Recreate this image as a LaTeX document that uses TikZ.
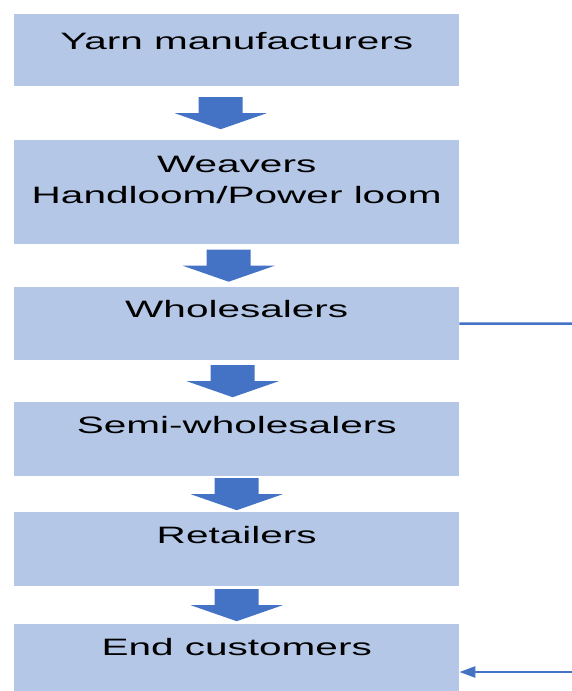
\documentclass[tikz,border=0pt]{standalone}
\usepackage{fontspec}
\usepackage{tikz}
\usetikzlibrary{arrows.meta,calc}
\newfontfamily\stagefont[FakeStretch=1.71]{Liberation Sans}
\definecolor{stagefill}{HTML}{B4C7E7}
\definecolor{flowblue}{HTML}{4472C4}

\begin{document}
\begin{tikzpicture}[x=1pt,y=-1pt,
	stage/.style={fill=stagefill, minimum width=445pt, inner sep=0pt,
		anchor=north west, align=center,
		font=\stagefont\fontsize{23.7}{31}\selectfont},
	blockarrow/.style={fill=flowblue}]

			\useasboundingbox (0,0) rectangle (572,691);

			% Stages of the chain
			\node[stage, text height=35pt, text depth=37pt] (yarn) at (14,14) {Yarn manufacturers};
			\node[stage, text height=63pt, text depth=41pt] (weav) at (14,140) {Weavers\\Handloom/Power loom};
			\node[stage, text height=30pt, text depth=43pt] (whole) at (14,287) {Wholesalers};
			\node[stage, text height=31pt, text depth=43pt] (semi) at (14,402) {Semi-wholesalers};
			\node[stage, text height=31pt, text depth=43pt] (ret) at (14,512) {Retailers};
			\node[stage, text height=31pt, text depth=43pt] (endc) at (14,624) {End customers};

			% Block arrows between the stages
			\foreach \a/\b/\dx in {yarn/weav/-16, weav/whole/-8, whole/semi/-4, semi/ret/0, ret/endc/0}{
				\coordinate (mid) at ($($(\a.south)!0.5!(\b.north)$)+(\dx,0)$);
				\fill[blockarrow] (mid) ++(-22,-16) -- ++(44,0) -- ++(0,16) -- ++(24,0)
					-- ++(-46,16) -- ++(-46,-16) -- ++(24,0) -- cycle;
			}

			% Side connectors
			\coordinate (out) at (572,323.5);
			\draw[flowblue, line width=2.5pt] (whole.east) -- (out);

			\coordinate (back) at (572,672);
			\draw[flowblue, line width=2.5pt, -{Triangle[length=16pt,width=11pt]}] (back) -- (back -| endc.east);

		\end{tikzpicture}
\end{document}
